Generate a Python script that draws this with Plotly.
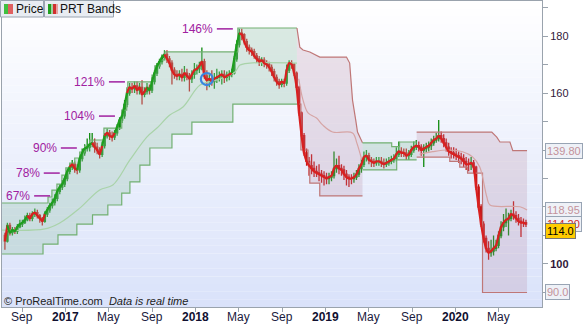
import plotly.graph_objects as go
import pandas as pd

# ---------------- DATA ----------------
week_start = '2016-07-15'
n_weeks = 210

opens = [110.0,108.0,113.5,111.0,112.0,111.5,113.0,114.0,114.5,115.5,
         117.0,116.0,117.5,118.0,117.0,116.0,115.0,117.5,119.0,120.5,
         121.5,123.0,125.5,127.0,128.0,130.0,132.5,134.0,135.0,133.5,
         133.0,137.0,139.0,140.5,141.0,142.0,142.5,141.0,140.0,138.5,
         141.5,145.0,146.0,145.0,144.5,146.0,148.0,150.5,152.0,156.0,
         160.0,162.0,161.5,162.5,161.0,162.0,159.5,160.5,162.0,161.0,
         164.0,167.0,169.5,171.0,172.5,173.5,172.0,170.5,168.0,166.5,
         166.0,166.5,165.5,167.0,166.0,165.0,166.5,168.0,168.5,169.5,
         171.0,166.0,164.5,165.0,164.0,165.0,165.5,166.0,166.5,165.5,
         166.0,166.5,167.0,172.0,177.0,181.0,180.5,178.0,176.0,175.0,
         174.5,173.0,172.0,171.0,171.5,170.5,170.0,169.0,167.5,165.5,
         164.0,163.0,164.0,163.5,168.0,170.5,170.0,167.0,162.0,153.0,
         145.0,139.0,136.0,134.5,133.5,132.5,132.0,131.5,131.0,130.5,
         130.0,130.5,131.0,133.5,134.5,133.5,133.0,131.5,130.5,130.0,
         130.0,130.5,131.5,133.5,135.0,137.5,138.0,136.5,136.0,135.5,
         136.0,136.0,135.5,135.0,135.5,136.0,136.5,137.0,138.5,139.5,
         139.0,139.0,138.0,138.5,140.0,141.0,141.5,141.0,140.0,140.5,
         141.0,141.5,142.5,143.5,144.0,145.0,144.0,142.5,141.0,139.5,
         139.0,138.5,138.0,137.5,137.0,136.0,135.0,135.0,135.5,134.0,
         127.0,120.0,114.0,109.0,105.5,104.0,104.5,105.5,106.5,110.0,
         113.0,114.5,115.5,116.0,117.5,117.0,116.0,115.0,114.5,114.5]

closes = [108.0,113.5,111.0,112.0,111.5,113.0,114.0,114.5,115.5,117.0,
          116.0,117.5,118.0,117.0,116.0,115.0,117.5,119.0,120.5,121.5,
          123.0,125.5,127.0,128.0,130.0,132.5,134.0,135.0,133.5,133.0,
          137.0,139.0,140.5,141.0,142.0,142.5,141.0,140.0,138.5,141.5,
          145.0,146.0,145.0,144.5,146.0,148.0,150.5,152.0,156.0,160.0,
          162.0,161.5,162.5,161.0,162.0,159.5,160.5,162.0,161.0,164.0,
          167.0,169.5,171.0,172.5,173.5,172.0,170.5,168.0,166.5,166.0,
          166.5,165.5,167.0,166.0,165.0,166.5,168.0,168.5,169.5,171.0,
          166.0,164.5,165.0,164.0,165.0,165.5,166.0,166.5,165.5,166.0,
          166.5,167.0,172.0,177.0,181.0,180.5,178.0,176.0,175.0,174.5,
          173.0,172.0,171.0,171.5,170.5,170.0,169.0,167.5,165.5,164.0,
          163.0,164.0,163.5,168.0,170.5,170.0,167.0,162.0,153.0,145.0,
          139.0,136.0,134.5,133.5,132.5,132.0,131.5,131.0,130.5,130.0,
          130.5,131.0,133.5,134.5,133.5,133.0,131.5,130.5,130.0,130.0,
          130.5,131.5,133.5,135.0,137.5,138.0,136.5,136.0,135.5,136.0,
          136.0,135.5,135.0,135.5,136.0,136.5,137.0,138.5,139.5,139.0,
          139.0,138.0,138.5,140.0,141.0,141.5,141.0,140.0,140.5,141.0,
          141.5,142.5,143.5,144.0,145.0,144.0,142.5,141.0,139.5,139.0,
          138.5,138.0,137.5,137.0,136.0,135.0,135.0,135.5,134.0,127.0,
          120.0,114.0,109.0,105.5,104.0,104.5,105.5,106.5,110.0,113.0,
          114.5,115.5,116.0,117.5,117.0,116.0,115.0,114.5,114.5,114.0]

highs = [111.0,114.5,114.5,113.0,113.0,114.0,115.5,115.5,117.0,118.0,
         118.0,118.5,119.5,119.0,117.5,116.5,118.5,120.0,121.5,123.0,
         124.5,126.5,128.0,129.5,131.0,133.5,135.0,136.5,136.0,135.0,
         138.0,140.5,142.0,144.0,146.0,146.0,144.0,142.5,141.0,143.0,
         146.0,147.5,147.0,146.5,147.0,149.0,151.5,153.5,157.5,161.5,
         163.5,163.5,164.0,164.0,163.5,164.5,162.0,163.5,163.0,165.5,
         168.0,170.5,172.0,173.5,175.0,175.0,173.0,171.5,169.0,168.0,
         168.0,168.5,169.5,168.5,167.0,168.0,170.5,170.0,171.0,176.0,
         172.0,168.0,166.5,168.0,167.0,168.5,167.5,168.0,168.0,167.5,
         168.0,168.5,173.0,178.5,182.5,182.5,181.0,179.0,177.0,176.0,
         175.5,174.0,173.0,172.5,172.5,171.5,171.0,170.0,168.5,166.5,
         165.0,165.0,165.0,170.0,171.5,171.5,170.5,167.5,162.5,153.5,
         146.0,140.5,137.5,138.5,136.0,134.5,135.0,133.0,132.5,132.0,
         132.0,132.5,139.5,137.0,138.0,135.0,134.5,133.0,131.5,131.5,
         132.0,133.0,135.0,137.0,139.5,140.0,139.0,137.5,137.0,137.5,
         137.5,137.5,137.0,137.0,137.5,138.0,138.5,141.0,143.0,141.0,
         140.5,140.5,140.0,141.5,143.0,143.5,143.0,142.0,142.0,142.5,
         143.0,144.0,145.0,146.0,150.5,146.5,145.5,144.0,142.5,141.0,
         141.0,140.5,139.5,139.0,138.5,137.5,137.0,137.5,136.5,134.5,
         128.0,121.0,115.0,110.0,108.0,108.5,110.0,108.5,111.5,115.0,
         117.5,119.5,118.0,119.0,122.0,118.5,117.5,116.5,116.0,115.5]

lows = [105.0,107.5,110.0,110.0,110.5,110.5,112.5,113.0,114.0,115.0,
        115.0,115.0,116.5,116.0,114.5,113.5,114.5,116.5,118.0,119.5,
        120.5,122.0,124.5,126.0,127.0,129.0,131.5,133.0,132.0,131.5,
        132.0,136.0,138.0,139.5,139.5,141.0,139.0,138.5,137.0,137.5,
        140.5,144.0,143.5,143.0,143.5,145.0,147.0,149.5,151.0,155.0,
        159.0,160.0,160.0,159.5,159.5,156.0,158.5,159.5,159.5,160.0,
        163.0,166.0,168.5,170.0,171.5,170.5,169.0,163.0,165.0,164.5,
        164.5,164.0,164.0,164.5,160.5,163.5,165.0,166.5,167.0,168.0,
        165.0,161.0,162.0,162.5,161.5,163.5,164.0,163.0,163.5,164.0,
        164.5,165.5,166.5,171.0,176.0,178.5,177.0,174.5,173.5,173.0,
        172.0,170.5,169.5,169.5,169.0,168.5,167.5,166.0,164.0,162.5,
        161.5,162.0,162.0,162.5,167.0,168.5,166.0,161.0,152.0,144.0,
        138.0,134.5,131.0,131.5,130.5,130.5,129.0,128.5,127.5,128.0,
        128.0,129.0,130.0,132.0,131.5,131.0,129.5,127.5,127.0,128.0,
        128.5,129.5,130.5,132.0,134.0,136.0,135.0,134.0,134.0,134.5,
        134.5,134.0,133.5,134.0,134.5,135.0,135.5,136.0,137.5,137.5,
        137.5,136.5,136.5,137.5,139.0,140.0,139.5,138.0,134.0,139.0,
        139.5,140.0,141.5,142.5,143.0,142.5,141.0,139.5,138.0,137.0,
        137.0,136.5,135.5,135.0,134.0,133.0,132.5,133.0,132.0,126.0,
        119.0,113.0,107.5,104.0,101.5,102.5,103.0,104.5,105.5,109.0,
        111.5,113.0,110.0,115.0,115.5,114.5,113.5,109.5,113.0,113.0]

# weeks (index ranges) where the trend line is drawn red
red_start = [0, 10, 27, 36, 41, 50, 65, 95]
red_end = [1, 16, 29, 39, 44, 57, 91, 209]

# PRT bands: green (up) band 1
g1_up_d = ['2016-07-07','2016-11-13','2016-11-24','2016-12-08','2016-12-22','2017-01-02','2017-01-13',
           '2017-01-27','2017-02-10','2017-02-24','2017-03-10','2017-04-19','2017-06-08','2017-06-22',
           '2017-06-25','2017-09-01','2017-09-09','2017-09-23','2017-10-07','2018-04-30','2018-10-13']
g1_up_v = [121.4,123.5,125.9,128.0,131.2,133.7,135.4,137.2,139.3,141.4,143.5,147.7,154.0,161.8,
           163.9,166.3,169.5,171.6,174.4,182.8,182.8]
g1_lo_d = ['2016-07-07','2016-10-30','2016-12-11','2017-02-02','2017-03-18','2017-04-30','2017-06-08',
           '2017-07-01','2017-07-29','2017-08-26','2017-10-27','2017-12-22','2018-04-16','2018-10-13']
g1_lo_v = [103.5,107.0,110.2,114.0,117.2,120.7,124.9,128.8,134.7,140.7,145.6,149.8,156.1,156.1]
g1_mid_d = ['2016-07-07','2016-11-04','2016-12-16','2017-02-10','2017-04-07','2017-05-14','2017-07-01',
            '2017-08-18','2017-09-15','2017-10-21','2017-11-27','2018-01-14','2018-03-02','2018-04-22',
            '2018-05-06','2018-06-03','2018-10-13']
g1_mid_v = [111.9,112.3,114.4,119.6,126.0,127.7,136.5,144.6,147.7,152.3,155.1,162.8,164.6,167.4,
            169.8,170.5,170.5]

# red (down) band 1
r1_up_d = ['2018-10-13','2018-10-21','2018-10-30','2018-11-18','2018-12-16','2019-03-01','2019-03-10',
           '2019-03-18','2019-03-27','2019-04-01','2019-04-15']
r1_up_v = [182.8,176.1,175.1,174.4,172.6,172.6,170.5,157.5,150.5,146.3,142.5]
r1_lo_d = ['2018-10-13','2018-10-24','2018-11-13','2018-11-18','2018-12-16','2019-04-15']
r1_lo_v = [156.1,140.0,135.4,128.4,123.9,123.9]
r1_mid_d = ['2018-10-18','2018-10-30','2018-11-13','2018-12-07','2018-12-24','2019-01-21','2019-03-18',
            '2019-03-30','2019-04-13']
r1_mid_v = [165.0,157.5,153.0,151.2,148.8,146.3,146.0,142.5,136.5]

# green band 2
g2_up_d = ['2019-04-15','2019-07-06','2019-07-28','2019-09-14']
g2_up_v = [142.5,141.2,142.8,142.8]
g2_lo_d = ['2019-04-15','2019-07-20','2019-09-14']
g2_lo_v = [133.0,136.5,136.5]

# red band 2
r2_up_d = ['2019-09-14','2020-04-12','2020-04-26','2020-05-05','2020-06-02','2020-06-10','2020-07-20']
r2_up_v = [146.3,146.3,144.5,142.8,142.8,139.8,139.8]
r2_lo_d = ['2019-09-14','2019-12-16','2020-01-13','2020-02-04','2020-03-17','2020-07-20']
r2_lo_v = [137.5,136.0,134.0,131.9,90.0,90.0]
r2_mid_d = ['2019-09-22','2019-10-29','2019-12-10','2020-01-21','2020-02-18','2020-03-09','2020-03-29',
            '2020-04-07','2020-06-30','2020-07-20']
r2_mid_v = [138.5,139.4,140.0,139.4,137.6,134.1,123.6,120.7,120.1,118.95]

# percentage markers
pct_text = ['67%', '78%', '90%', '104%', '121%', '146%']
pct_date = ['2016-11-19', '2016-12-16', '2017-02-02', '2017-05-20', '2017-06-17', '2018-04-16']
pct_val = [123.9, 131.9, 140.7, 151.9, 163.9, 182.5]

marker_date = '2018-02-02'
marker_val = 164.9

# right-hand value labels
val_labels = ['139.80', '118.95', '114.20', '90.0']
val_values = [139.80, 118.95, 114.20, 90.0]
last_price_text = '114.0'
last_price = 114.0

x_tick_dates = ['2016-09-01','2017-01-01','2017-05-01','2017-09-01','2018-01-01','2018-05-01',
                '2018-09-01','2019-01-01','2019-05-01','2019-09-01','2020-01-01','2020-05-01']
x_tick_text = ['Sep','<b>2017</b>','May','Sep','<b>2018</b>','May','Sep','<b>2019</b>','May','Sep',
               '<b>2020</b>','May']
y_tick_vals = [90, 100, 110, 120, 130, 140, 150, 160, 170, 180, 190]
y_tick_text = ['', '<b>100</b>', '', '', '', '', '', '160', '', '180', '']

# ---------------- STYLE ----------------
FONT = 'Liberation Sans, Arial, sans-serif'
GREEN_FILL = 'rgba(150,195,170,0.33)'
RED_FILL = 'rgba(185,140,165,0.24)'
GREEN_LINE = '#72b072'
GREEN_MID = '#a9d3a9'
RED_LINE = '#bf7777'
RED_MID = '#d6a4a4'

dates = pd.date_range(week_start, periods=n_weeks, freq='7D')

fig = go.Figure()

def band(up_d, up_v, up_shape, lo_d, lo_v, fill, lcol):
    fig.add_trace(go.Scatter(x=up_d, y=up_v, mode='lines', line=dict(color=lcol, width=1.2, shape=up_shape),
                             showlegend=False, hoverinfo='skip'))
    fig.add_trace(go.Scatter(x=lo_d, y=lo_v, mode='lines', line=dict(color=lcol, width=1.2, shape='hv'),
                             fill='tonexty', fillcolor=fill, showlegend=False, hoverinfo='skip'))

band(g1_up_d, g1_up_v, 'hv', g1_lo_d, g1_lo_v, GREEN_FILL, GREEN_LINE)
band(r1_up_d, r1_up_v, 'linear', r1_lo_d, r1_lo_v, RED_FILL, RED_LINE)
band(g2_up_d, g2_up_v, 'hv', g2_lo_d, g2_lo_v, GREEN_FILL, GREEN_LINE)
band(r2_up_d, r2_up_v, 'linear', r2_lo_d, r2_lo_v, RED_FILL, RED_LINE)

fig.add_trace(go.Scatter(x=g1_mid_d, y=g1_mid_v, mode='lines', line=dict(color=GREEN_MID, width=1.2, shape='spline'),
                         showlegend=False, hoverinfo='skip'))
fig.add_trace(go.Scatter(x=r1_mid_d, y=r1_mid_v, mode='lines', line=dict(color=RED_MID, width=1.2, shape='spline'),
                         showlegend=False, hoverinfo='skip'))
fig.add_trace(go.Scatter(x=r2_mid_d, y=r2_mid_v, mode='lines', line=dict(color=RED_MID, width=1.2, shape='spline'),
                         showlegend=False, hoverinfo='skip'))

fig.add_trace(go.Candlestick(x=dates, open=opens, high=highs, low=lows, close=closes,
                             increasing=dict(line=dict(color='#0f8a0f', width=1.3), fillcolor='#35c435'),
                             decreasing=dict(line=dict(color='#c41616', width=1.3), fillcolor='#e25a5a'),
                             whiskerwidth=0, showlegend=False, hoverinfo='skip'))

# trend line coloured by run
is_red = [False] * n_weeks
for a, b in zip(red_start, red_end):
    for k in range(a, b + 1):
        is_red[k] = True
i = 1
while i < n_weeks:
    j = i
    while j + 1 < n_weeks and is_red[j + 1] == is_red[i]:
        j += 1
    col = '#d92020' if is_red[i] else '#1e9e1e'
    fig.add_trace(go.Scatter(x=dates[i - 1:j + 1], y=closes[i - 1:j + 1], mode='lines',
                             line=dict(color=col, width=2.2, shape='spline', smoothing=0.6),
                             showlegend=False, hoverinfo='skip'))
    i = j + 1

fig.add_trace(go.Scatter(x=[marker_date], y=[marker_val], mode='markers',
                         marker=dict(symbol='circle-open', size=12, color='#3a86e0', line=dict(width=2.2)),
                         showlegend=False, hoverinfo='skip'))

shapes = []
# background gradient inside plot area
N = 40
for k in range(N):
    t = (k + 0.5) / N
    r = round(255 + (218 - 255) * t)
    g = round(255 + (226 - 255) * t)
    b = round(255 + (250 - 255) * t)
    shapes.append(dict(type='rect', xref='paper', yref='paper', x0=0, x1=1,
                       y0=1 - (k + 1) / N, y1=1 - k / N, line=dict(width=0),
                       fillcolor=f'rgb({r},{g},{b})', layer='below'))

annotations = []
for txt, d, v in zip(pct_text, pct_date, pct_val):
    shapes.append(dict(type='line', xref='x', yref='y', xsizemode='pixel', xanchor=d,
                       x0=-16, x1=0, y0=v, y1=v, line=dict(color='#a020a0', width=1.5)))
    annotations.append(dict(x=d, y=v, xref='x', yref='y', text=txt, showarrow=False,
                            xanchor='right', yanchor='middle', xshift=-18,
                            font=dict(family=FONT, size=12, color='#a020a0')))

# x-axis labels
for d, txt in zip(x_tick_dates, x_tick_text):
    annotations.append(dict(x=d, y=0, xref='x', yref='paper', text=txt, showarrow=False,
                            xanchor='center', yanchor='middle', yshift=-10,
                            font=dict(family=FONT, size=12, color='#101030' if '<b>' in txt else '#1a1a40')))

# legend boxes
def pbox(x0, x1, y0, y1, fill, lw=1, lc='#9aa4b0'):
    shapes.append(dict(type='rect', xref='paper', yref='paper', xsizemode='pixel', ysizemode='pixel',
                       xanchor=0, yanchor=1, x0=x0, x1=x1, y0=y0, y1=y1,
                       fillcolor=fill, line=dict(color=lc, width=lw)))

pbox(-1.5, 41.5, 0.5, -16, '#e8ecf2')
pbox(42.5, 111.5, 0.5, -16, '#e8ecf2')
pbox(2, 6, -3, -13, '#40c040', 0)
pbox(6, 11, -3, -13, '#e06060', 0)
pbox(46, 49, -3, -13, '#20a020', 0)
pbox(49, 51, -3, -13, '#a0d0a0', 0)
pbox(51, 54, -3, -13, '#d03030', 0)
pbox(54, 56, -3, -13, '#e8a0a0', 0)

annotations.append(dict(xref='paper', yref='paper', x=0, y=1, xanchor='left', yanchor='middle',
                        xshift=12, yshift=-8, text='Price', showarrow=False,
                        font=dict(family=FONT, size=12, color='#111')))
annotations.append(dict(xref='paper', yref='paper', x=0, y=1, xanchor='left', yanchor='middle',
                        xshift=56, yshift=-8, text='PRT Bands', showarrow=False,
                        font=dict(family=FONT, size=12, color='#111')))
annotations.append(dict(xref='paper', yref='paper', x=0, y=0, xanchor='left', yanchor='middle',
                        xshift=0, yshift=6, text='© ProRealTime.com  <i>Data is real time</i>',
                        showarrow=False, font=dict(family=FONT, size=11, color='#222')))

for txt, v in zip(val_labels, val_values):
    col = '#d02828' if txt == '114.20' else '#c4929a'
    annotations.append(dict(xref='paper', yref='y', x=1, y=v, xanchor='left', yanchor='middle',
                            xshift=3, text=txt, showarrow=False, bgcolor='#eef1f7',
                            bordercolor='#98a4b4', borderwidth=1, borderpad=1,
                            font=dict(family=FONT, size=11, color=col)))
annotations.append(dict(xref='paper', yref='y', x=1, y=last_price, xanchor='left', yanchor='middle',
                        xshift=3, yshift=-7, text=last_price_text, showarrow=False, bgcolor='#ffcc00',
                        bordercolor='#777777', borderwidth=1, borderpad=1,
                        font=dict(family=FONT, size=11, color='#000')))

fig.update_layout(
    width=583, height=324,
    margin=dict(l=2, r=41, t=1, b=17),
    paper_bgcolor='white', plot_bgcolor='white',
    shapes=shapes, annotations=annotations,
    showlegend=False,
    font=dict(family=FONT, size=12, color='#222'),
    xaxis=dict(type='date', range=['2016-07-06 20:00', '2020-08-31'],
               rangeslider=dict(visible=False), showgrid=False, zeroline=False,
               tickmode='array', tickvals=x_tick_dates, showticklabels=False,
               ticks='outside', ticklen=4, tickcolor='#9aa3ad',
               showline=True, linecolor='#9aa3ad', linewidth=1, mirror=True, automargin=False),
    yaxis=dict(side='right', range=[84.91, 192.28], showgrid=False, zeroline=False,
               tickmode='array', tickvals=y_tick_vals, ticktext=y_tick_text,
               ticks='outside', ticklen=5, tickcolor='#9aa3ad',
               tickfont=dict(family=FONT, size=11, color='#301838'),
               showline=True, linecolor='#9aa3ad', linewidth=1, mirror=True, automargin=False),
)

fig.write_html('out.html')
